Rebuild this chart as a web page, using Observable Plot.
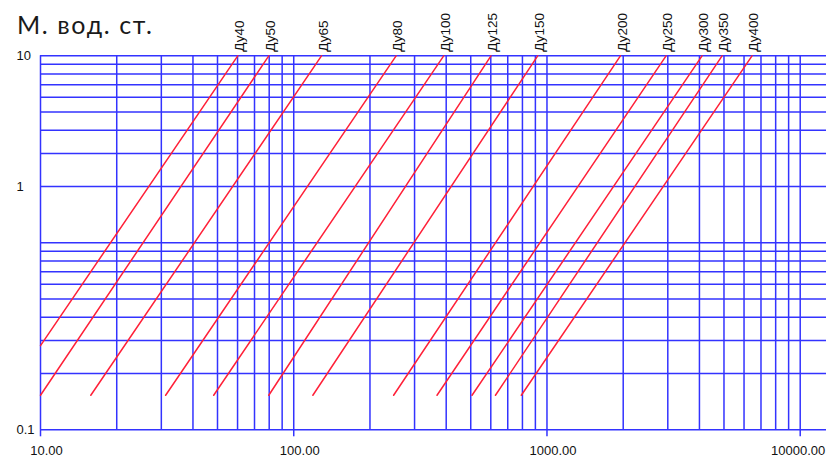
<!DOCTYPE html>
<html>
<head>
<meta charset="utf-8">
<script src="https://cdn.jsdelivr.net/npm/d3@7"></script>
<script src="https://cdn.jsdelivr.net/npm/@observablehq/plot@0.6"></script>
<style>
  html, body { margin: 0; padding: 0; background: #fff; }
  #wrap { position: relative; width: 826px; height: 462px; overflow: hidden; }
  #title { position: absolute; left: 17px; top: 9px; font-family: Lato, "Noto Sans", sans-serif; font-size: 25px; line-height: 30px; color: #1a1a1a; letter-spacing: 1.6px; font-weight: 400; }
  svg { display: block; }
</style>
</head>
<body>
<div id="wrap">
  <div id="title">М. вод. ст.</div>
</div>
<script>
// Diameter series (labels) and their endpoints: flow (x) and head (y)
const sizes     = ["Ду40", "Ду50", "Ду65", "Ду80", "Ду100", "Ду125", "Ду150", "Ду200", "Ду250", "Ду300", "Ду350", "Ду400"];
const flowStart = [10, 10, 15.8, 31.2, 48.3, 79.7, 119, 248, 368, 506, 626, 792];
const headStart = [0.282, 0.153, 0.153, 0.153, 0.153, 0.153, 0.153, 0.153, 0.153, 0.153, 0.153, 0.153];
const flowEnd   = [60.1, 79.7, 128.7, 253.7, 391, 601, 919, 1950, 2953, 4096, 4914, 6452];
const headEnd   = [10, 10, 10, 10, 10, 10, 10, 10, 10, 10, 10, 10];

// Grid values
const xGrid = [10, 20, 30, 40, 50, 60, 70, 80, 90,
               100, 200, 300, 400, 500, 600, 700, 800, 900,
               1000, 2000, 3000, 4000, 5000, 6000, 7000, 8000, 9000, 10000];
const yGrid = [0.1, 0.2, 0.3, 0.4, 0.5, 0.6, 0.7, 0.8, 0.9,
               1, 2, 3, 4, 5, 6, 7, 8, 9, 10];

// Tick labels
const xTickValues = [10, 100, 1000, 10000];
const xTickLabels = ["10.00", "100.00", "1000.00", "10000.00"];
const yTickValues = [10, 2, 0.1];
const yTickLabels = ["10", "1", "0.1"];

const segs = [];
sizes.forEach((s, i) => {
  segs.push({size: s, flow: flowStart[i], head: headStart[i]});
  segs.push({size: s, flow: flowEnd[i], head: headEnd[i]});
});
const tops = sizes.map((s, i) => ({size: s, flow: flowEnd[i], head: headEnd[i]}));

const xLabels = xTickValues.map((v, i) => ({v, t: xTickLabels[i], last: i === xTickValues.length - 1}));

const blue = "#3333ff";
const red = "#ff2038";

const chart = Plot.plot({
  width: 826,
  height: 462,
  marginLeft: 40,
  marginRight: 0,
  marginTop: 55.3,
  marginBottom: 32.7,
  style: {background: "transparent", fontFamily: "'Liberation Sans', Arial, sans-serif"},
  x: {type: "log", domain: [10, 12700], axis: null},
  y: {type: "log", domain: [0.1, 10], axis: null},
  marks: [
    Plot.ruleX(xGrid, {x: d => d, stroke: blue, strokeWidth: 1.5}),
    Plot.ruleY(yGrid, {y: d => d, stroke: blue, strokeWidth: 1.5}),
    Plot.axisX(xTickValues, {tickSize: 7, tickFormat: () => "", stroke: blue, strokeWidth: 1.5, label: null}),
    Plot.line(segs, {x: "flow", y: "head", z: "size", stroke: red, strokeWidth: 1.5}),
    Plot.text(tops, {x: "flow", y: "head", text: "size", rotate: -90, textAnchor: "start", dy: -4, dx: 2, fontSize: 13.5, fill: "#111"}),
    Plot.text(xLabels.filter(d => !d.last), {x: "v", text: "t", frameAnchor: "bottom", dy: 25, dx: 6, fontSize: 13, fill: "#111"}),
    Plot.text(xLabels.filter(d => d.last), {x: "v", text: "t", frameAnchor: "bottom", dy: 25, dx: 25, textAnchor: "end", fontSize: 13, fill: "#111"}),
    Plot.text(yTickValues, {y: d => d, text: (d, i) => yTickLabels[i], frameAnchor: "left", dx: -24, fontSize: 13, fill: "#111"})
  ]
});
document.getElementById("wrap").prepend(chart);
</script>
</body>
</html>
